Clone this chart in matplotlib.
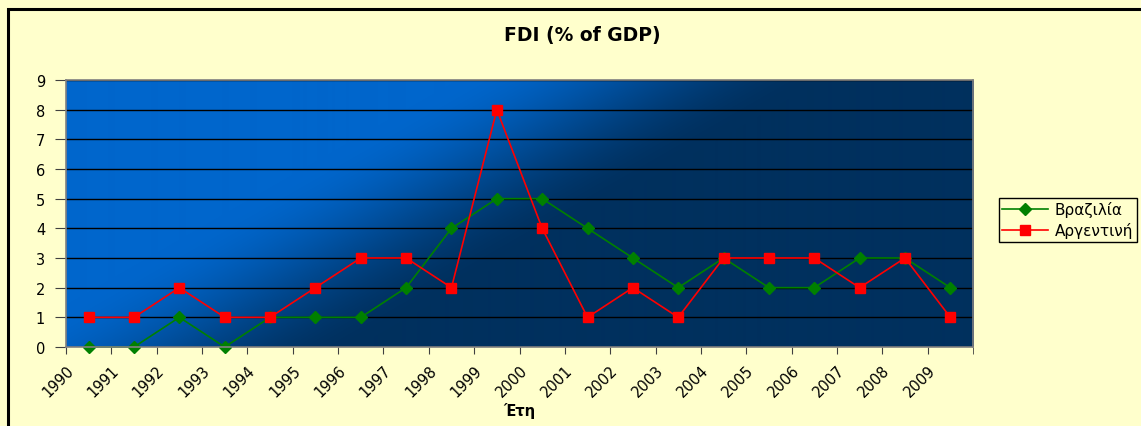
import numpy as np
import matplotlib
matplotlib.use("Agg")
import matplotlib.pyplot as plt
from matplotlib.colors import to_rgb
from matplotlib.patches import Rectangle
from matplotlib.transforms import ScaledTranslation

years = [str(y) for y in range(1990, 2010)]
brazil = [0, 0, 1, 0, 1, 1, 1, 2, 4, 5, 5, 4, 3, 2, 3, 2, 2, 3, 3, 2]
argentina = [1, 1, 2, 1, 1, 2, 3, 3, 2, 8, 4, 1, 2, 1, 3, 3, 3, 2, 3, 1]

BG = "#FFFFCC"
BLUE = "#0066CC"
NAVY = "#00305E"

plt.rcParams["font.family"] = ["DejaVu Sans"]

fig = plt.figure(figsize=(11.41, 4.27), dpi=100, facecolor=BG)
ax = fig.add_axes([66 / 1141, 1 - 348 / 427, 907 / 1141, 267 / 427])

# diagonal gradient: blue top-left -> navy bottom-right
W, H = 907, 267
px, py = np.meshgrid(np.arange(W), np.arange(H)[::-1])
s = ((px - 109) * 267 - py * 465) / 536.0
t = np.clip(0.5 + s / 180.0, 0, 1)
t = t * t * (3 - 2 * t)
c0, c1 = np.array(to_rgb(BLUE)), np.array(to_rgb(NAVY))
img = c0[None, None, :] * (1 - t[..., None]) + c1[None, None, :] * t[..., None]
ax.imshow(img, extent=[0, 1, 0, 1], transform=ax.transAxes, aspect="auto",
          zorder=-1, interpolation="bilinear")

x = np.arange(len(years)) + 0.5
ax.plot(x, brazil, color="#008000", lw=1.2, marker="D", ms=6.5, label="Βραζιλία",
        clip_on=False)
ax.plot(x, argentina, color="#FF0000", lw=1.2, marker="s", ms=6.5, label="Αργεντινή",
        clip_on=False)

ax.set_xlim(0, len(years))
ax.set_ylim(0, 9)
ax.set_yticks(range(10))
ax.set_xticks(range(len(years)))
ax.set_xticklabels(years, rotation=45, ha="right", va="top",
                   rotation_mode="anchor", fontsize=10.5)
shift = ScaledTranslation(9 / 100, 0, fig.dpi_scale_trans)
for lab in ax.get_xticklabels():
    lab.set_transform(lab.get_transform() + shift)
ax.tick_params(axis="y", labelsize=10.5, length=8, pad=7, color="#404040")
ax.tick_params(axis="x", length=5, color="#404040", pad=6)
ax.set_xticks(range(len(years) + 1), minor=True)
ax.tick_params(axis="x", which="minor", length=5, color="#404040")
ax.grid(axis="y", color="black", lw=1)
for sp in ax.spines.values():
    sp.set_color("#808080")
    sp.set_linewidth(1.2)

ax.set_xlabel("Έτη", fontsize=10.5, fontweight="bold")
ax.xaxis.set_label_coords(0.5, -(403 - 348) / 267)
fig.text(582 / 1141, 1 - 35 / 427, "FDI (% of GDP)", ha="center", va="center",
         fontsize=13.5, fontweight="bold")

leg = ax.legend(loc="upper left", bbox_to_anchor=(991 / 1141, 1 - 191 / 427),
                bbox_transform=fig.transFigure, fontsize=11, frameon=True,
                fancybox=False, edgecolor="black", facecolor=BG, framealpha=1,
                handlelength=3.0, handletextpad=0.4, borderpad=0.25,
                labelspacing=0.3)
leg.get_frame().set_linewidth(1)

fig.patches.append(Rectangle((8 / 1141, -0.2), 1.2, 1.2 - 10 / 427,
                             transform=fig.transFigure, fill=False,
                             edgecolor="black", lw=2.2))

fig.savefig("out.png", dpi=100, facecolor=BG)
